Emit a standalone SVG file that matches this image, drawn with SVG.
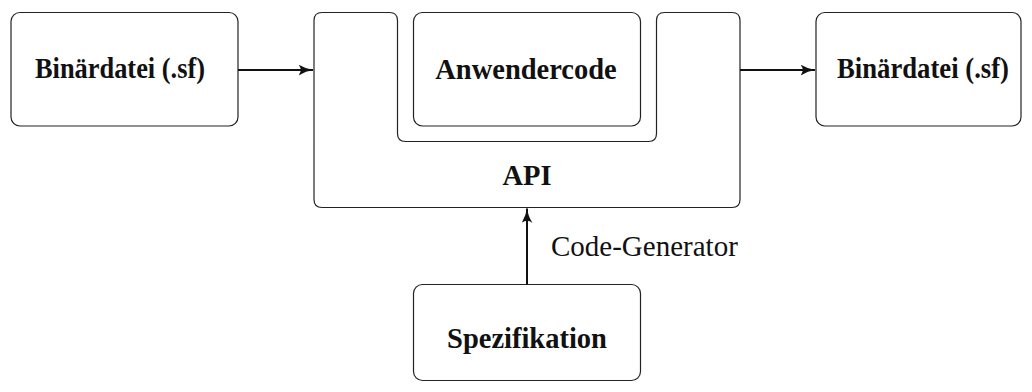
<svg xmlns="http://www.w3.org/2000/svg" width="1032" height="392" viewBox="0 0 1032 392">
  <style>
    .box { fill: #fff; stroke: #222; stroke-width: 1.2; }
    .lbl { font-family: "Liberation Serif", "Times New Roman", serif; font-size: 28.5px; font-weight: bold; fill: #111; text-anchor: middle; }
    .note { font-family: "Liberation Serif", "Times New Roman", serif; font-size: 29px; fill: #111; }
    .edge { fill: none; stroke: #111; stroke-width: 2; }
  </style>
  <defs>
    <marker id="arrow" viewBox="0 0 15 11" refX="14.5" refY="5.5" markerWidth="15" markerHeight="11" markerUnits="userSpaceOnUse" orient="auto">
      <path d="M0,0 Q7,4.5 15,5.5 Q7,6.5 0,11 Q4.5,5.5 0,0 Z" fill="#111"/>
    </marker>
  </defs>

  <g id="input-file">
    <rect class="box" x="11" y="12.5" width="227" height="113.5" rx="9"/>
    <text class="lbl" x="120" y="78" textLength="170" lengthAdjust="spacingAndGlyphs">Binärdatei (.sf)</text>
  </g>

  <g id="api">
    <path class="box" d="M322,12.5 H389.5 Q397.5,12.5 397.5,20.5 V133.5 Q397.5,141.5 405.5,141.5 H648.5 Q656.5,141.5 656.5,133.5 V20.5 Q656.5,12.5 664.5,12.5 H732 Q740,12.5 740,20.5 V199.5 Q740,207.5 732,207.5 H322 Q314,207.5 314,199.5 V20.5 Q314,12.5 322,12.5 Z"/>
    <text class="lbl" x="527" y="184.5">API</text>
  </g>

  <g id="user-code">
    <rect class="box" x="413.5" y="12.5" width="227" height="113.5" rx="9"/>
    <text class="lbl" x="526" y="79">Anwendercode</text>
  </g>

  <g id="output-file">
    <rect class="box" x="816" y="12.5" width="205" height="113.5" rx="9"/>
    <text class="lbl" x="923" y="78" textLength="172" lengthAdjust="spacingAndGlyphs">Binärdatei (.sf)</text>
  </g>

  <g id="spec">
    <rect class="box" x="413.5" y="284.5" width="227" height="96" rx="9"/>
    <text class="lbl" x="527" y="348">Spezifikation</text>
  </g>

  <g id="connectors">
    <line class="edge" x1="238" y1="70" x2="313" y2="70" marker-end="url(#arrow)"/>
    <line class="edge" x1="740" y1="70" x2="815" y2="70" marker-end="url(#arrow)"/>
    <line class="edge" x1="527" y1="284.5" x2="527" y2="208.5" marker-end="url(#arrow)"/>
    <text class="note" x="551" y="256">Code-Generator</text>
  </g>
</svg>
